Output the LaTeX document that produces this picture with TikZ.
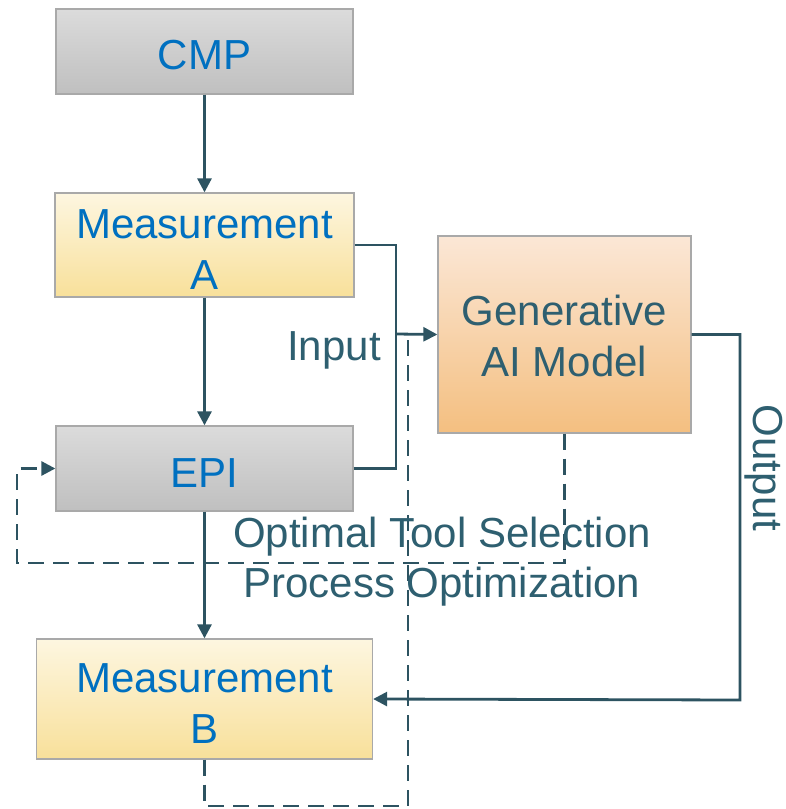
\documentclass[tikz,border=0pt]{standalone}
\usepackage{fontspec}
\setmainfont{Liberation Sans}
\usetikzlibrary{arrows.meta}
\definecolor{lineC}{HTML}{2D5361}
\definecolor{labC}{HTML}{2E5F70}
\definecolor{txtC}{HTML}{0070C0}
\definecolor{bordC}{HTML}{A9A9A9}
\newcommand{\dnstrut}[1]{\rule{0pt}{#1pt}}
\tikzset{
  boxbase/.style={draw=bordC, line width=1.3pt, inner sep=0pt, align=center, text=txtC,
    font=\fontsize{42}{51}\selectfont},
  graybox/.style={boxbase, top color=black!14, bottom color=black!25},
  yellowbox/.style={boxbase, top color={rgb,255:red,253;green,246;blue,224}, bottom color={rgb,255:red,248;green,224;blue,154}},
  orangebox/.style={boxbase, top color={rgb,255:red,251;green,231;blue,214}, bottom color={rgb,255:red,244;green,191;blue,128}, text=labC},
  conn/.style={draw=lineC, line width=2.8pt},
  arr/.style={-{Triangle[length=14pt,width=14pt]}},
  dline/.style={conn, dash pattern=on 16pt off 9pt},
  lab/.style={text=labC, inner sep=0pt, font=\fontsize{42}{51}\selectfont, align=center}
}
\begin{document}
\begin{tikzpicture}[x=1pt,y=-1pt]
\useasboundingbox[fill=white] (0,0) rectangle (786,809);
\node[graybox, minimum width=297pt, minimum height=85pt] (CMP) at (204.5,51.5) {\dnstrut{37}CMP};
\node[yellowbox, minimum width=299pt, minimum height=104pt] (MA) at (204.5,245) {\dnstrut{37}Measurement\\A};
\node[graybox, minimum width=297pt, minimum height=85pt] (EPI) at (204.5,468.5) {\dnstrut{37}EPI};
\node[yellowbox, minimum width=336pt, minimum height=120pt] (MB) at (204.5,699) {\dnstrut{37}Measurement\\B};
\node[orangebox, minimum width=253pt, minimum height=197pt] (GEN) at (564.5,334.5) {\dnstrut{33}Generative\\AI Model};
\coordinate (j) at (396,334);
\coordinate (o) at (740,700);
\coordinate (d1) at (17,563);
\coordinate (d2) at (408,806);
\coordinate (d3) at (408,338);
% solid connectors
\draw[conn, arr] (CMP.south) -- (MA.north);
\draw[conn, arr] (MA.south) -- (EPI.north);
\draw[conn, arr] (EPI.south) -- (MB.north);
\draw[conn] (MA.east) -| (j);
\draw[conn] (EPI.east) -| (j);
\draw[conn, arr] (j) -- (GEN.west);
\draw[conn, arr] (GEN.east) -| (o) -- (MB.east);
% dashed feedback
\draw[dline, arr] (GEN.south) |- (d1) |- (EPI.west);
\draw[dline] (MB.south) |- (d2) -- (d3);
% labels
\node[lab] (inp) at (334,350.5) {Input};
\node[lab, rotate=-90] (outp) at (764,468) {Output};
\node[lab] (opt) at (442,537) {Optimal Tool Selection};
\node[lab] (proc) at (442,587) {Process Optimization};
\end{tikzpicture}
\end{document}
